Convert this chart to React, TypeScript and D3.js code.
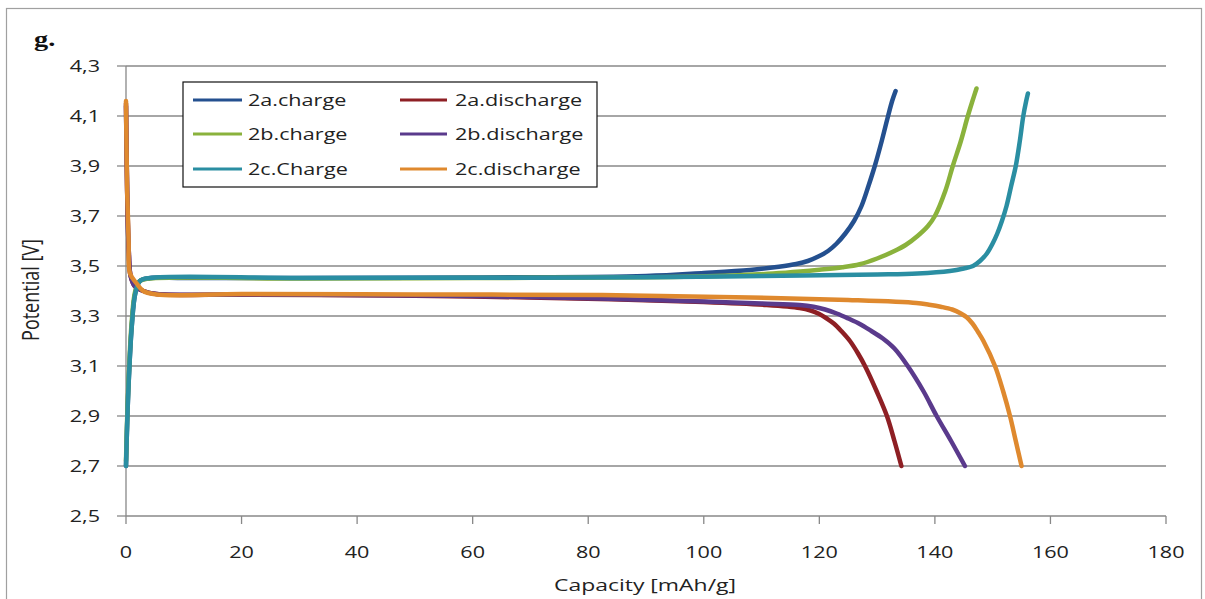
import React from "react";
import * as d3 from "d3";

type Pt = [number, number];

const xTicks = [0, 20, 40, 60, 80, 100, 120, 140, 160, 180];
const yTicks = [2.5, 2.7, 2.9, 3.1, 3.3, 3.5, 3.7, 3.9, 4.1, 4.3];
const yTickLabels = ["2,5", "2,7", "2,9", "3,1", "3,3", "3,5", "3,7", "3,9", "4,1", "4,3"];

const charge2a: Pt[] = [
  [0, 2.7], [0.4, 3.0], [1.0, 3.26], [1.6, 3.39], [2.4, 3.44], [4.2, 3.452], [10, 3.452], [30, 3.452],
  [60, 3.454], [90, 3.46], [100, 3.472], [108, 3.484], [113, 3.497], [116, 3.508], [118, 3.52],
  [120, 3.54], [121.5, 3.56], [123, 3.59], [124.5, 3.63], [126, 3.68], [127.3, 3.74], [128.5, 3.82],
  [129.6, 3.9], [130.8, 4.0], [131.9, 4.1], [132.6, 4.16], [133.2, 4.2],
];
const discharge2a: Pt[] = [
  [0, 4.15], [0.2, 3.8], [0.5, 3.55], [0.8, 3.46], [1.5, 3.42], [3, 3.4], [5.3, 3.388], [20, 3.385],
  [40, 3.383], [60, 3.378], [82, 3.368], [100, 3.356], [110.9, 3.344], [116.6, 3.332], [118.5, 3.322],
  [120, 3.308], [121.3, 3.29], [122.5, 3.27], [123.8, 3.24], [125.3, 3.2], [126.7, 3.15], [127.9, 3.1],
  [129.9, 3.0], [131.7, 2.9], [133, 2.8], [134.2, 2.7],
];
const charge2b: Pt[] = [
  [0, 2.72], [0.4, 3.02], [1.0, 3.28], [1.6, 3.4], [2.4, 3.44], [4.2, 3.45], [30, 3.45], [60, 3.452],
  [90, 3.455], [105, 3.462], [112, 3.47], [116.7, 3.478], [120, 3.485], [124, 3.495], [127, 3.507],
  [130, 3.53], [133, 3.56], [135, 3.585], [137, 3.62], [138.8, 3.66], [140, 3.7], [141.8, 3.8],
  [143.1, 3.9], [144.5, 4.0], [145.7, 4.1], [146.5, 4.16], [147.2, 4.21],
];
const discharge2b: Pt[] = [
  [0, 4.14], [0.2, 3.8], [0.5, 3.55], [0.8, 3.46], [1.5, 3.42], [3, 3.4], [5.3, 3.388], [20, 3.386],
  [40, 3.384], [60, 3.38], [82, 3.37], [100, 3.358], [110, 3.35], [116.6, 3.344], [119, 3.337],
  [121, 3.326], [123, 3.31], [125, 3.29], [127, 3.268], [129, 3.24], [131, 3.21], [133, 3.17],
  [135.3, 3.1], [138, 3.0], [140.3, 2.9], [142.8, 2.8], [145.2, 2.7],
];
const charge2c: Pt[] = [
  [0, 2.7], [0.4, 3.0], [1.0, 3.26], [1.6, 3.39], [2.4, 3.44], [4.2, 3.452], [30, 3.452], [60, 3.453],
  [90, 3.455], [110, 3.46], [130, 3.466], [137, 3.47], [142.6, 3.48], [145, 3.49], [146.6, 3.5],
  [147.8, 3.52], [149, 3.55], [150, 3.59], [150.8, 3.63], [151.6, 3.68], [152.4, 3.74], [153.2, 3.82],
  [154, 3.9], [154.7, 4.0], [155.3, 4.1], [155.8, 4.16], [156.1, 4.19],
];
const discharge2c: Pt[] = [
  [0, 4.16], [0.2, 3.8], [0.45, 3.6], [0.7, 3.47], [1.85, 3.43], [3, 3.4], [5.3, 3.386], [20, 3.388],
  [50, 3.386], [82, 3.384], [108, 3.374], [125, 3.364], [136.8, 3.352], [139, 3.345], [141, 3.337],
  [143, 3.326], [144.5, 3.31], [145.5, 3.295], [146.5, 3.27], [147.5, 3.235], [148.4, 3.2],
  [150.4, 3.1], [151.8, 3.0], [153, 2.9], [154, 2.8], [155, 2.7],
];

const seriesNames = ["2a.charge", "2a.discharge", "2b.charge", "2b.discharge", "2c.Charge", "2c.discharge"];
const seriesData = [charge2a, discharge2a, charge2b, discharge2b, charge2c, discharge2c];
const seriesColors = ["#24508f", "#8e1f24", "#8ab23c", "#5a3a8c", "#2a8ea2", "#df892e"];

const SX = 1.35;
const FONT = "'Open Sans', 'Liberation Sans', sans-serif";

function SText(props: { x: number; y: number; anchor?: string; size?: number; children: React.ReactNode; fill?: string; family?: string; weight?: string }) {
  const { x, y, anchor = "start", size = 16, children, fill = "#222", family = FONT, weight = "normal" } = props;
  return (
    <text
      transform={`translate(${x},${y}) scale(${SX},1)`}
      textAnchor={anchor}
      fontSize={size}
      fontFamily={family}
      fontWeight={weight}
      fill={fill}
    >
      {children}
    </text>
  );
}

export default function App() {
  const W = 1205, H = 599;
  const x = d3.scaleLinear().domain([0, 180]).range([126, 1166]);
  const y = d3.scaleLinear().domain([2.5, 4.3]).range([516, 66]);
  const line = d3
    .line<Pt>()
    .x((d) => x(d[0]))
    .y((d) => y(d[1]))
    .curve(d3.curveCatmullRom.alpha(0.5));

  const gridColor = "#888";
  const legendRows = [100, 134, 169];
  const legendCols = [[193, 242, 248], [400, 447, 455]];
  const legend = { x: 183, y: 82, w: 414, h: 105 };

  return (
    <svg width={W} height={H} style={{ position: "absolute", left: 0, top: 0, background: "#fff" }}>
      <rect x={0} y={0} width={W} height={H} fill="#fff" />
      <rect x={6.5} y={8.5} width={1195} height={620} fill="none" stroke="#a0a0a0" strokeWidth={1.2} />
      <SText x={34} y={46} size={21} family="'Liberation Serif', 'DejaVu Serif', serif" weight="bold" fill="#111">g.</SText>

      {/* gridlines */}
      {yTicks.slice(1).map((t) => (
        <line key={t} x1={x(0)} x2={x(180)} y1={y(t)} y2={y(t)} stroke={gridColor} strokeWidth={1.3} />
      ))}
      {/* axes */}
      <line x1={x(0)} x2={x(0)} y1={y(4.3)} y2={y(2.5)} stroke={gridColor} strokeWidth={1.3} />
      <line x1={x(0)} x2={x(180)} y1={y(2.5)} y2={y(2.5)} stroke={gridColor} strokeWidth={1.3} />
      {yTicks.map((t, i) => (
        <g key={t}>
          <line x1={117} x2={x(0)} y1={y(t)} y2={y(t)} stroke={gridColor} strokeWidth={1.3} />
          <SText x={100} y={y(t) + 6} anchor="end">{yTickLabels[i]}</SText>
        </g>
      ))}
      {xTicks.map((t) => (
        <g key={t}>
          <line x1={x(t)} x2={x(t)} y1={y(2.5)} y2={y(2.5) + 8} stroke={gridColor} strokeWidth={1.3} />
          <SText x={x(t)} y={557.5} anchor="middle">{String(t)}</SText>
        </g>
      ))}
      <SText x={645} y={591} anchor="middle" size={17}>Capacity [mAh/g]</SText>
      <text
        transform={`translate(39,290) scale(${SX},1) rotate(-90)`}
        textAnchor="middle"
        fontSize={18}
        fontFamily={FONT}
        fill="#222"
      >
        Potential [V]
      </text>

      {/* series */}
      {seriesData.map((d, i) => (
        <path key={seriesNames[i]} d={line(d) || ""} fill="none" stroke={seriesColors[i]} strokeWidth={4.5} strokeLinejoin="round" strokeLinecap="round" />
      ))}

      {/* legend */}
      <rect x={legend.x} y={legend.y} width={legend.w} height={legend.h} fill="#fff" stroke="#111" strokeWidth={1.2} />
      {seriesNames.map((n, i) => {
        const row = Math.floor(i / 2);
        const col = legendCols[i % 2];
        const cy = legendRows[row];
        return (
          <g key={n}>
            <line x1={col[0]} x2={col[1]} y1={cy} y2={cy} stroke={seriesColors[i]} strokeWidth={3} />
            <SText x={col[2]} y={cy + 6} size={16}>{n}</SText>
          </g>
        );
      })}
    </svg>
  );
}
